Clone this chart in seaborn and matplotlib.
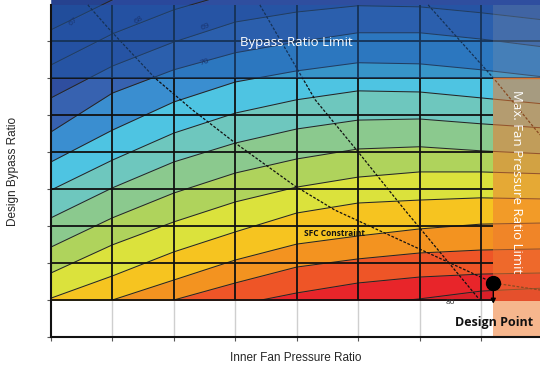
import numpy as np
import pandas as pd
import matplotlib
matplotlib.use("Agg")
import matplotlib.pyplot as plt
from matplotlib.patches import Rectangle
import seaborn as sns

# ---------------- data ----------------
# sample columns along Inner Fan Pressure Ratio (grid units)
x_cols = [0, 1, 2, 3, 4, 5, 6, 7, 8]

# contour levels: Design Bypass Ratio (grid units) at each column
c67 = [7.30, 8.11, 8.78, 9.27, 9.59, 9.81, 9.81, 9.65, 9.46]
c68 = [6.35, 7.19, 7.84, 8.32, 8.65, 8.86, 8.86, 8.70, 8.51]
c69 = [5.46, 6.32, 6.97, 7.51, 7.78, 7.95, 7.92, 7.76, 7.57]
c70 = [4.54, 5.59, 6.22, 6.68, 6.97, 7.22, 7.22, 7.05, 6.84]
c71 = [3.73, 4.59, 5.35, 5.89, 6.19, 6.41, 6.38, 6.22, 6.03]
c72 = [2.97, 3.78, 4.51, 5.05, 5.41, 5.65, 5.62, 5.46, 5.30]
c73 = [2.22, 3.03, 3.73, 4.24, 4.62, 4.86, 4.89, 4.76, 4.65]
c74 = [1.43, 2.22, 2.89, 3.43, 3.81, 4.08, 4.14, 4.03, 3.95]
c75 = [0.73, 1.49, 2.11, 2.65, 3.05, 3.32, 3.46, 3.46, 3.41]
c76 = [0.05, 0.65, 1.30, 1.84, 2.35, 2.62, 2.70, 2.76, 2.73]
c77 = [-0.54, 0.00, 0.54, 1.08, 1.51, 1.73, 1.92, 2.05, 2.08]
c78 = [-1.08, -0.54, 0.00, 0.46, 0.89, 1.11, 1.27, 1.35, 1.38]
c79 = [-1.89, -1.35, -0.81, -0.14, 0.19, 0.46, 0.62, 0.70, 0.73]
c80 = [-3.24, -2.70, -2.16, -1.35, -0.68, -0.14, 0.03, 0.24, 0.32]

band_colors = ['#26428f', '#2a489b', '#2f4e9f', '#3762b0', '#3a8ed0',
               '#4ec4e2', '#6ec7be', '#8bc98e', '#afd35c', '#dbe23c',
               '#f6c420', '#f39320', '#ee5527', '#e8252a', '#d91f28']

# constraint lines
sfc_x = [0.60, 0.93, 1.69, 2.30, 3.00, 3.97, 4.62, 5.68, 7.10, 7.20, 7.96]
sfc_y = [7.97, 7.35, 6.00, 5.14, 4.24, 3.08, 2.43, 1.62, 0.54, 0.46, 0.27]
lim2_x = [3.40, 4.30, 5.00, 5.76, 6.98]
lim2_y = [7.97, 5.41, 4.00, 2.43, 0.00]
lim3_x = [6.14, 7.20, 7.96]
lim3_y = [7.97, 6.00, 4.46]

design_x, design_y = 7.20, 0.46

contour_labels = ['67', '68', '69', '70', '80']
label_x = [0.36, 1.42, 2.51, 2.51, 6.50]
label_y = [7.51, 7.57, 7.38, 6.43, -0.06]
label_rot = [40, 33, 22, 16, 0]
label_colors = ['#1a3570', '#1a3570', '#1a3570', '#1a3570', '#303030']

grid_x = [1, 2, 3, 4, 5, 6, 7]
grid_y = [0, 1, 2, 3, 4, 5, 6, 7]

# ---------------- figure ----------------
sns.set_theme(style="white")
plt.rcParams['font.family'] = ['Open Sans', 'DejaVu Sans']

fig = plt.figure(figsize=(5.4, 3.69), dpi=100)
ax = fig.add_axes([51 / 540, 1 - 337 / 369, 489 / 540, 332 / 369])
ax.set_xlim(0, 7.96)
ax.set_ylim(-1, 7.97)

clip = Rectangle((0, 0), 8, 8.5, transform=ax.transData, fill=False, lw=0)
ax.add_patch(clip)
clip.set_visible(False)

lines = [c67, c68, c69, c70, c71, c72, c73, c74, c75, c76, c77, c78, c79, c80]
uppers = [[10.5] * len(x_cols)] + lines
lowers = lines + [[-5] * len(x_cols)]
for lo, up, col in zip(lowers, uppers, band_colors):
    f = ax.fill_between(x_cols, lo, up, color=col, lw=0.4, edgecolor=col, zorder=1)
    f.set_clip_path(clip)

# contour lines
cdf = pd.DataFrame({
    'x': np.tile(x_cols, len(lines)),
    'y': np.concatenate(lines),
    'lvl': np.repeat(np.arange(len(lines)), len(x_cols)),
})
for lvl, sub in cdf.groupby('lvl'):
    sns.lineplot(data=sub, x='x', y='y', ax=ax, color='#262626', lw=0.75,
                 sort=False, estimator=None, zorder=2)
for ln in ax.lines:
    ln.set_clip_path(clip)

# grid: light gray in the white area, black over the map
ax.vlines(grid_x, -1, 0, color='#cfcfcf', lw=1.0, zorder=0.5)
ax.vlines(grid_x, 0, 8, color='#111111', lw=1.3, zorder=3)
ax.hlines(grid_y[:6], 0, 7.2, color='#111111', lw=1.3, zorder=3)
ax.hlines(grid_y[6:], 0, 8, color='#111111', lw=1.3, zorder=3)

# constraint (dashed) lines
for xs, ys in [(sfc_x, sfc_y), (lim2_x, lim2_y), (lim3_x, lim3_y)]:
    sns.lineplot(x=xs, y=ys, ax=ax, color='#111111', lw=0.9, sort=False,
                 estimator=None, linestyle=(0, (2.2, 1.3)), zorder=4)
for ln in ax.lines:
    ln.set_clip_path(clip)

# limit overlays
ax.add_patch(Rectangle((0, 6), 8, 2.5, color='#1d5cab', alpha=0.45, lw=0, zorder=5))
ax.add_patch(Rectangle((7.2, 6), 0.8, 2.5, color='#a0a0a0', alpha=0.22, lw=0, zorder=5))
ax.add_patch(Rectangle((7.2, -1), 0.8, 7, color='#ef7a30', alpha=0.55, lw=0, zorder=5))
ax.hlines(6, 7.2, 8, color='#d8702e', lw=1.0, zorder=5.5)

# contour labels
for t, lx, ly, r, c in zip(contour_labels, label_x, label_y, label_rot, label_colors):
    ax.text(lx, ly, t, fontsize=6, color=c, rotation=r,
            ha='center', va='center', zorder=6)

ax.text(3.99, 6.97, 'Bypass Ratio Limit', color='white', fontsize=9.5,
        ha='center', va='center', zorder=7)
ax.text(7.57, 3.2, 'Max. Fan Pressure Ratio Limit', color='white', fontsize=9.5,
        rotation=-90, ha='center', va='center', zorder=7)
ax.text(4.62, 1.80, 'SFC Constraint', fontsize=6, fontweight='bold',
        color='#111111', ha='center', va='center', zorder=7)

# design point
ax.plot([design_x], [design_y], 'o', ms=10, color='black', zorder=8)
ax.annotate('', xy=(design_x, -0.1), xytext=(design_x, design_y),
            arrowprops=dict(arrowstyle='-|>', color='black', lw=1,
                            mutation_scale=7, shrinkA=0, shrinkB=0), zorder=8)
ax.text(7.22, -0.6, 'Design Point', fontsize=9, fontweight='bold',
        color='#111111', ha='center', va='center', zorder=8)

# axes styling
ax.set_xticks([0] + grid_x)
ax.set_yticks([-1] + grid_y)
ax.set_xticklabels([])
ax.set_yticklabels([])
ax.tick_params(axis='both', direction='out', length=3, width=0.8,
               color='#555555', bottom=True, left=True)
for side in ['top', 'right']:
    ax.spines[side].set_visible(False)
for side in ['left', 'bottom']:
    ax.spines[side].set_color('#111111')
    ax.spines[side].set_linewidth(1.5)
    ax.spines[side].set_zorder(9)

ax.set_xlabel('Inner Fan Pressure Ratio', fontsize=8.5, family=['Liberation Sans'])
ax.set_ylabel('Design Bypass Ratio', fontsize=8.5, family=['Liberation Sans'])
ax.xaxis.set_label_coords(0.5, -0.045)
ax.yaxis.set_label_coords(-0.065, 0.5)

fig.savefig('out.png', dpi=100)
